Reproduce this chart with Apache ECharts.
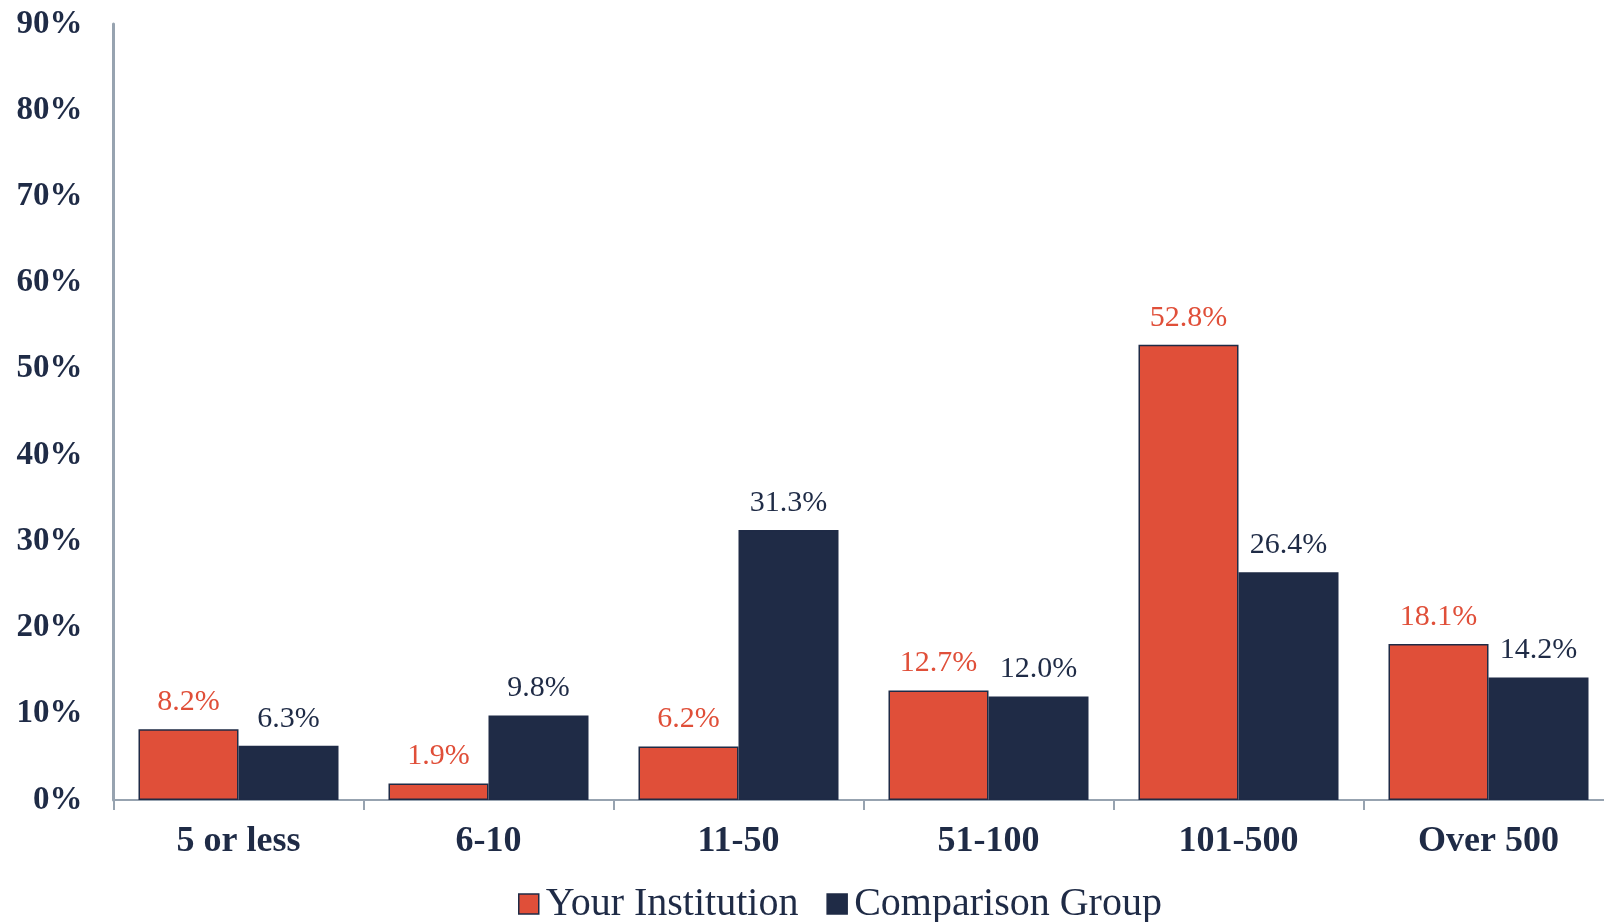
<!DOCTYPE html>
<html>
<head>
<meta charset="utf-8">
<script src="https://cdn.jsdelivr.net/npm/echarts@6/dist/echarts.min.js"></script>
<style>
html,body{margin:0;padding:0;background:#fff;}
#chart{width:1604px;height:922px;}
</style>
</head>
<body>
<div id="chart"></div>
<script>
const categories = ['5 or less', '6-10', '11-50', '51-100', '101-500', 'Over 500'];
const yourInstitution = [8.2, 1.9, 6.2, 12.7, 52.8, 18.1];
const comparisonGroup = [6.3, 9.8, 31.3, 12.0, 26.4, 14.2];
const seriesNames = ['Your Institution', 'Comparison Group'];

const ORANGE = '#E04F39';
const NAVY = '#1F2B46';
const AXIS = '#97A3B0';
const FONT = '"Liberation Serif", "DejaVu Serif", serif';

const chart = echarts.init(document.getElementById('chart'));
chart.setOption({
  animation: false,
  textStyle: { fontFamily: FONT },
  grid: { left: 113.5, top: 24, width: 1500, bottom: 122, containLabel: false, outerBoundsMode: 'none' },
  legend: {
    left: 513, top: 879,
    icon: 'rect',
    itemWidth: 20, itemHeight: 20, itemGap: 28,
    itemStyle: { borderColor: NAVY, borderWidth: 1.5 },
    textStyle: { fontFamily: FONT, fontSize: 40, color: NAVY, padding: [0, 0, 0, 2] },
    data: seriesNames
  },
  xAxis: {
    type: 'category',
    data: categories,
    axisLine: { lineStyle: { color: AXIS, width: 2 } },
    axisTick: { show: true, length: 10, lineStyle: { color: AXIS, width: 2 } },
    axisLabel: { fontFamily: FONT, fontSize: 36, fontWeight: 'bold', color: NAVY, margin: 24 }
  },
  yAxis: {
    type: 'value',
    min: 0, max: 90, interval: 10,
    axisLine: { show: true, lineStyle: { color: AXIS, width: 3 } },
    axisTick: { show: false },
    splitLine: { show: false },
    axisLabel: { formatter: '{value}%', fontFamily: FONT, fontSize: 33, fontWeight: 'bold', color: NAVY, margin: 31 }
  },
  series: [
    {
      name: seriesNames[0], type: 'bar', data: yourInstitution,
      barGap: '0%', barCategoryGap: '20%',
      itemStyle: { color: ORANGE, borderColor: NAVY, borderWidth: 1.5 },
      label: { show: true, position: 'top', distance: 12, formatter: p => p.value.toFixed(1) + '%',
        fontFamily: FONT, fontSize: 30, color: ORANGE }
    },
    {
      name: seriesNames[1], type: 'bar', data: comparisonGroup,
      barGap: '0%', barCategoryGap: '20%',
      itemStyle: { color: NAVY, borderColor: NAVY, borderWidth: 1.5 },
      label: { show: true, position: 'top', distance: 12, formatter: p => p.value.toFixed(1) + '%',
        fontFamily: FONT, fontSize: 30, color: NAVY }
    }
  ]
});
</script>
</body>
</html>
